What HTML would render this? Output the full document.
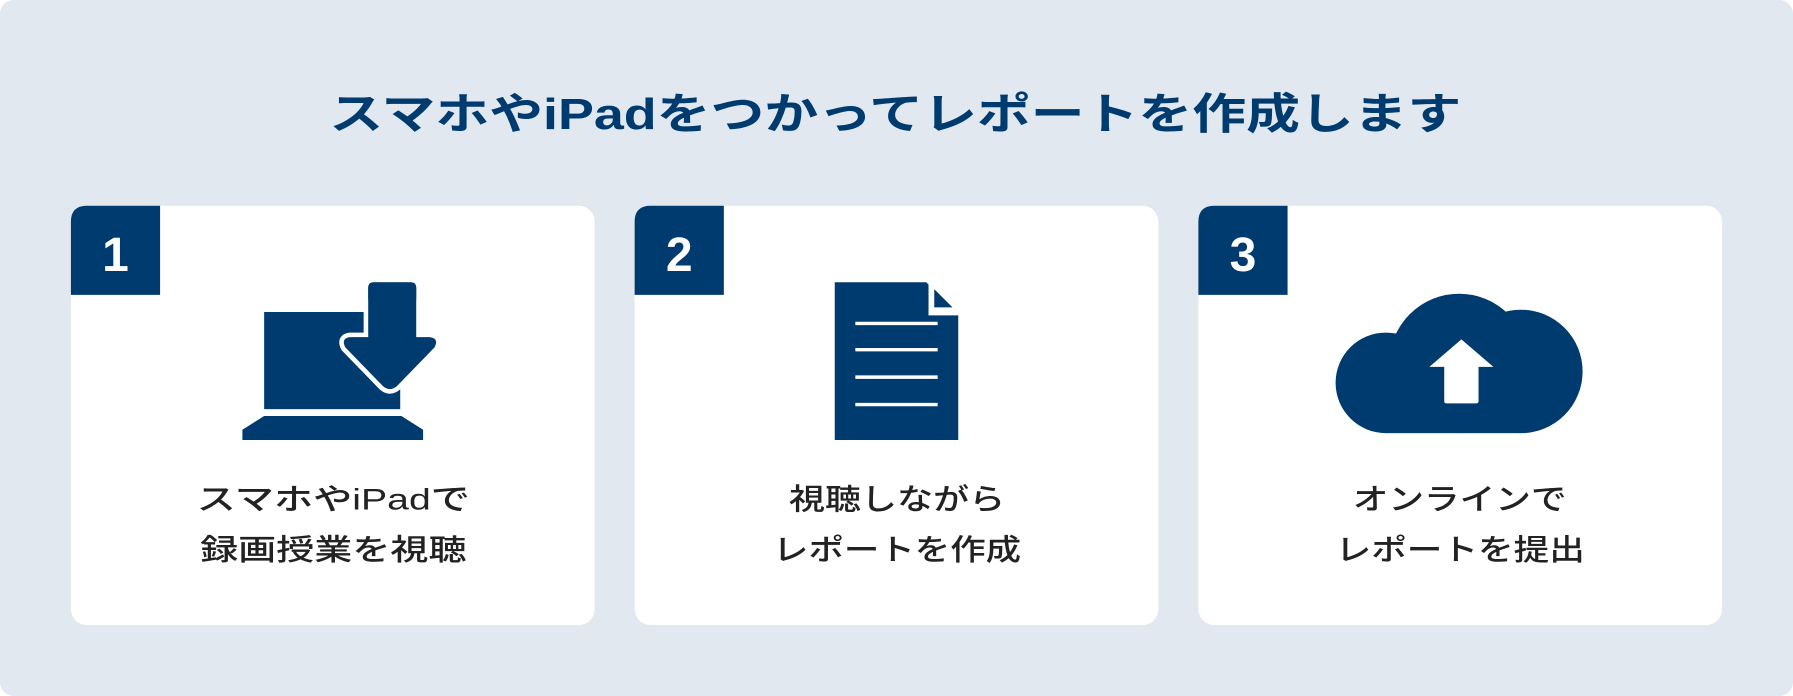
<!DOCTYPE html>
<html><head><meta charset="utf-8"><style>
html,body{margin:0;padding:0;background:#fff;}
svg{display:block}
text{font-family:"Liberation Sans","Noto Sans CJK JP",sans-serif;}
</style></head><body>
<svg width="1793" height="696" viewBox="0 0 1568 609" preserveAspectRatio="none" xmlns="http://www.w3.org/2000/svg">
<rect x="0" y="0" width="1568" height="609" rx="12" fill="#e1e8ef"/>
<text x="288" y="113" textLength="990" lengthAdjust="spacingAndGlyphs" font-family="'Noto Sans CJK JP','Liberation Sans',sans-serif" font-size="38" font-weight="700" fill="#003b6f">スマホやiPadをつかってレポートを作成します</text>

<!-- cards -->
<rect x="62" y="180" width="458" height="367" rx="14" fill="#fff"/>
<rect x="555" y="180" width="458" height="367" rx="14" fill="#fff"/>
<rect x="1048" y="180" width="458" height="367" rx="14" fill="#fff"/>
<path d="M62 258 V194 Q62 180 76 180 H140 V258 Z" fill="#003b6f"/>
<path d="M555 258 V194 Q555 180 569 180 H633 V258 Z" fill="#003b6f"/>
<path d="M1048 258 V194 Q1048 180 1062 180 H1126 V258 Z" fill="#003b6f"/>
<text x="101" y="237" text-anchor="middle" font-size="42" font-weight="700" fill="#fff">1</text>
<text x="594" y="237" text-anchor="middle" font-size="42" font-weight="700" fill="#fff">2</text>
<text x="1087" y="237" text-anchor="middle" font-size="42" font-weight="700" fill="#fff">3</text>

<!-- icon 1 -->
<rect x="231" y="273" width="119" height="85" fill="#003b6f"/>
<path d="M212 376 L231 364 H351 L370 376 V385 H212 Z" fill="#003b6f"/>
<path d="M322 252 Q322 247 327 247 H359 Q364 247 364 252 V295 H376 Q384 296 380 304 L347 338 Q341 343 335 338 L302 304 Q298 296 306 295 H322 Z" fill="#003b6f" stroke="#fff" stroke-width="8" stroke-linejoin="round"/>
<path d="M322 252 Q322 247 327 247 H359 Q364 247 364 252 V295 H376 Q384 296 380 304 L347 338 Q341 343 335 338 L302 304 Q298 296 306 295 H322 Z" fill="#003b6f"/>
<rect x="318" y="238" width="52" height="9" fill="#fff"/>
<path d="M322 252 Q322 247 327 247 H359 Q364 247 364 252 V262 H322 Z" fill="#003b6f"/>

<!-- icon 2 -->
<path d="M730 247 H810 L838 275 V385 H730 Z" fill="#003b6f"/>
<path d="M812 247 L838 273 V276 H812 Z" fill="#fff"/>
<path d="M817 253 L833 269 H817 Z" fill="#003b6f"/>
<g stroke="#fff" stroke-width="3">
<line x1="748" y1="283" x2="820" y2="283"/>
<line x1="748" y1="306" x2="820" y2="306"/>
<line x1="748" y1="330" x2="820" y2="330"/>
<line x1="748" y1="354" x2="820" y2="354"/>
</g>

<!-- icon 3 -->
<g fill="#003b6f">
<circle cx="1212" cy="335" r="44"/>
<circle cx="1276" cy="318" r="61"/>
<circle cx="1330" cy="325" r="54"/>
<rect x="1212" y="320" width="118" height="59"/>
</g>
<path d="M1278 297 L1306 321 H1293 V351 Q1293 353 1291 353 H1265 Q1263 353 1263 351 V321 H1250 Z" fill="#fff"/>

<!-- labels -->
<g font-size="26" font-weight="500" fill="#222" font-family="'Noto Sans CJK JP','Liberation Sans',sans-serif">
<text x="172" y="446" textLength="239" lengthAdjust="spacingAndGlyphs">スマホやiPadで</text>
<text x="175" y="490" textLength="233" lengthAdjust="spacingAndGlyphs">録画授業を視聴</text>
<text x="690" y="446" textLength="189" lengthAdjust="spacingAndGlyphs">視聴しながら</text>
<text x="676" y="490" textLength="217" lengthAdjust="spacingAndGlyphs">レポートを作成</text>
<text x="1183" y="446" textLength="187" lengthAdjust="spacingAndGlyphs">オンラインで</text>
<text x="1168" y="490" textLength="218" lengthAdjust="spacingAndGlyphs">レポートを提出</text>
</g>
</svg>
</body></html>
